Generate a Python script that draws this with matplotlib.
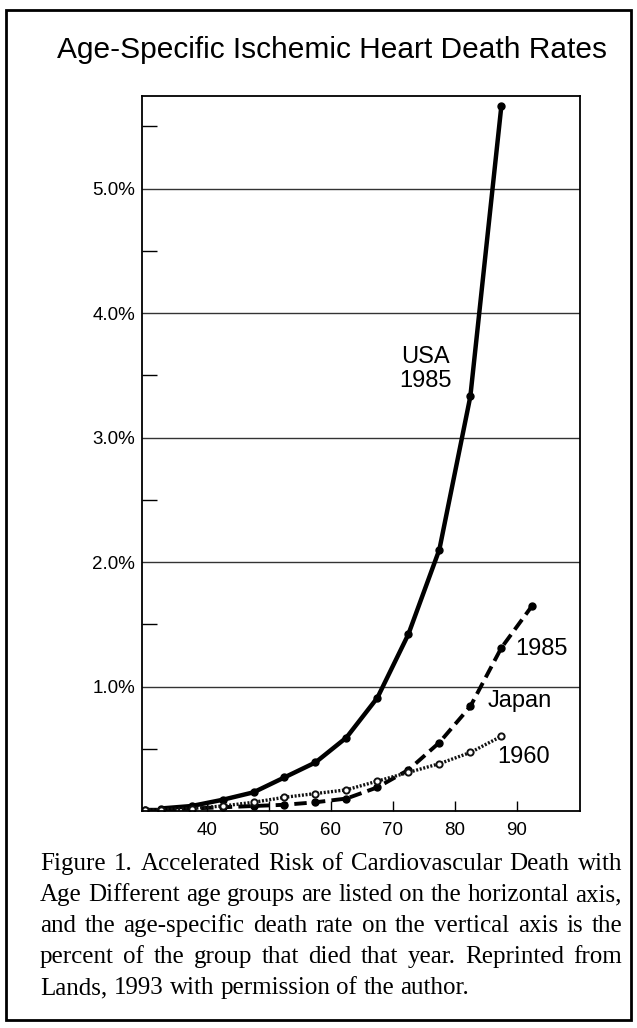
import matplotlib
matplotlib.use("Agg")
import matplotlib.pyplot as plt
from matplotlib.patches import Rectangle
import numpy as np

plt.rcParams['font.family'] = ['Liberation Sans', 'DejaVu Sans']

# age group midpoints and age-specific ischemic heart death rates (%)
ages_usa = [32.5, 37.5, 42.5, 47.5, 52.5, 57.5, 62.5, 67.5, 72.5, 77.5, 82.5, 87.5]
usa_1985 = [0.02, 0.04, 0.09, 0.15, 0.27, 0.39, 0.59, 0.91, 1.42, 2.10, 3.33, 5.66]

ages_jp85 = [30.0, 32.5, 37.5, 42.5, 47.5, 52.5, 57.5, 62.5, 67.5, 72.5, 77.5, 82.5, 87.5, 92.5]
japan_1985 = [0.01, 0.01, 0.02, 0.03, 0.04, 0.05, 0.07, 0.10, 0.19, 0.33, 0.55, 0.84, 1.31, 1.65]

ages_jp60 = [30.0, 32.5, 37.5, 42.5, 47.5, 52.5, 57.5, 62.5, 67.5, 72.5, 77.5, 82.5, 87.5]
japan_1960 = [0.01, 0.01, 0.02, 0.04, 0.07, 0.11, 0.14, 0.17, 0.24, 0.31, 0.38, 0.47, 0.60]

x_ticks = [40, 50, 60, 70, 80, 90]
y_ticks = [1, 2, 3, 4, 5]
y_labels = ['1.0%', '2.0%', '3.0%', '4.0%', '5.0%']

title = "Age-Specific Ischemic Heart Death Rates"
caption_lines = [
    "Figure 1.  Accelerated Risk of Cardiovascular Death with",
    "Age Different age groups are listed on the horizontal axis,",
    "and the age-specific death rate on the vertical axis is the",
    "percent of the group that died that year.  Reprinted from",
    "Lands, 1993 with permission of the author.",
]

W, H = 637, 1028
fig = plt.figure(figsize=(W / 100, H / 100), dpi=100)

# outer frame
fig.patches.append(Rectangle((6 / W, 1 - 1020 / H), 625 / W, 1010 / H,
                             transform=fig.transFigure, fill=False,
                             lw=2.0, ec='black'))

ax = fig.add_axes([142 / W, 1 - 811 / H, 438 / W, 715 / H])

ax.plot(ages_usa, usa_1985, color='black', lw=3.2, marker='o', ms=5,
        solid_capstyle='round')
ax.plot(ages_jp85, japan_1985, color='black', lw=2.8, marker='o', ms=5,
        dashes=(3.2, 1.6))
ax.plot(ages_jp60, japan_1960, color='#111111', lw=2.4, marker='o', ms=4.5,
        mfc='white', mew=1.4, dashes=(0.6, 0.5))

ax.set_xlim(29.5, 100.2)
ax.set_ylim(0, 5.743)

for y in y_ticks:
    ax.axhline(y, color='#333333', lw=1.0, zorder=0)

ax.set_yticks(y_ticks)
ax.set_yticklabels(y_labels)
ax.set_yticks(np.arange(0.5, 5.6, 1.0), minor=True)
ax.tick_params(axis='y', which='major', length=0, pad=5, labelsize=13.5)
ax.tick_params(axis='y', which='minor', direction='in', length=11, width=1)
ax.set_xticks(x_ticks)
ax.tick_params(axis='x', direction='in', length=7, width=1, pad=8, labelsize=13.5)

for s in ax.spines.values():
    s.set_linewidth(1.3)

ax.text(75.3, 3.55, "USA\n1985", ha='center', va='center', fontsize=17,
        linespacing=1.1)
ax.text(89.8, 1.30, "1985", ha='left', va='center', fontsize=17)
ax.text(85.3, 0.88, "Japan", ha='left', va='center', fontsize=17)
ax.text(86.8, 0.43, "1960", ha='left', va='center', fontsize=17)

fig.text(57 / W, 1 - 58 / H, title, ha='left', va='baseline', fontsize=21.5)

# justified serif caption
cap_size = 18
renderer = fig.canvas.get_renderer()
left_px, right_px = 40, 622
y0, dy = 870, 31
space = fig.text(0, 0, "a a", fontsize=cap_size, family='Liberation Serif')
aa = fig.text(0, 0, "aa", fontsize=cap_size, family='Liberation Serif')
space_w = space.get_window_extent(renderer).width - aa.get_window_extent(renderer).width
space.remove()
aa.remove()
for i, line in enumerate(caption_lines):
    words = line.split()
    y = 1 - (y0 + i * dy) / H
    objs = [fig.text(0, y, w, fontsize=cap_size, family='Liberation Serif',
                     va='baseline', ha='left') for w in words]
    widths = [o.get_window_extent(renderer).width for o in objs]
    if i < len(caption_lines) - 1:
        gap = (right_px - left_px - sum(widths)) / (len(words) - 1)
    else:
        gap = space_w
    x = left_px
    for o, w in zip(objs, widths):
        o.set_x(x / W)
        x += w + gap

fig.savefig("out.png", dpi=100)
